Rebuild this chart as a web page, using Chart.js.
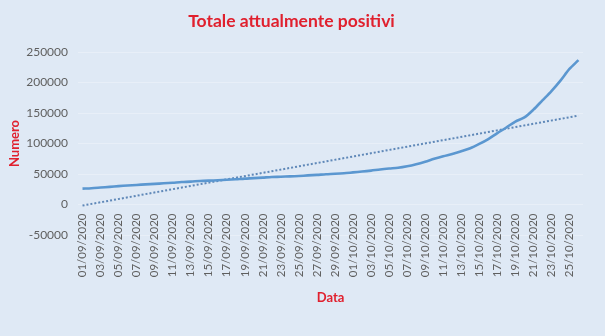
<!DOCTYPE html>
<html>
<head>
<meta charset="utf-8">
<script src="https://cdn.jsdelivr.net/npm/chart.js@4/dist/chart.umd.min.js"></script>
<style>
  html, body { margin: 0; padding: 0; background: #dfe9f5; }
  #wrap { width: 605px; height: 336px; }
</style>
</head>
<body>
<div id="wrap"><canvas id="chart"></canvas></div>
<script>
// ===== DATA =====
const dates = [
  "01/09/2020", "02/09/2020", "03/09/2020", "04/09/2020", "05/09/2020", "06/09/2020", "07/09/2020",
  "08/09/2020", "09/09/2020", "10/09/2020", "11/09/2020", "12/09/2020", "13/09/2020", "14/09/2020",
  "15/09/2020", "16/09/2020", "17/09/2020", "18/09/2020", "19/09/2020", "20/09/2020", "21/09/2020",
  "22/09/2020", "23/09/2020", "24/09/2020", "25/09/2020", "26/09/2020", "27/09/2020", "28/09/2020",
  "29/09/2020", "30/09/2020", "01/10/2020", "02/10/2020", "03/10/2020", "04/10/2020", "05/10/2020",
  "06/10/2020", "07/10/2020", "08/10/2020", "09/10/2020", "10/10/2020", "11/10/2020", "12/10/2020",
  "13/10/2020", "14/10/2020", "15/10/2020", "16/10/2020", "17/10/2020", "18/10/2020", "19/10/2020",
  "20/10/2020", "21/10/2020", "22/10/2020", "23/10/2020", "24/10/2020", "25/10/2020", "26/10/2020"
];

const positivi = [
  26078, 26754, 27817, 28915, 30099, 31194, 32078,
  32993, 33789, 34734, 35708, 36767, 37503, 38509,
  39187, 39712, 40532, 41413, 42457, 43161, 44098,
  45079, 45489, 46114, 46780, 47718, 48593, 49618,
  50323, 51263, 52647, 54015, 55566, 57429, 58903,
  60134, 62576, 65952, 70110, 74829, 79075, 82764,
  87193, 92174, 99266, 107312, 116935, 126237, 135995,
  142739, 155442, 170696, 186002, 203182, 222241, 236684
];

// linear trend: end points only
const trendDates = ["01/09/2020", "26/10/2020"];
const trendValues = [-1700, 145700];

const yTicks = [-50000, 0, 50000, 100000, 150000, 200000, 250000];

// ===== CHART =====
const red = "#e0202e";
const grey = "#5f5f5f";
const font = "Lato, 'Liberation Sans', sans-serif";

const ctx = document.getElementById("chart").getContext("2d");

new Chart(ctx, {
  type: "line",
  data: {
    labels: dates,
    datasets: [
      {
        label: "Totale attualmente positivi",
        data: positivi,
        borderColor: "#5b97d0",
        borderWidth: 2.6,
        pointRadius: 0,
        tension: 0.3,
        fill: false
      },
      {
        label: "Lineare",
        data: trendDates.map((d, i) => ({ x: d, y: trendValues[i] })),
        borderColor: "#5f88b8",
        borderWidth: 2,
        borderDash: [2, 2],
        pointRadius: 0,
        fill: false
      }
    ]
  },
  options: {
    responsive: true,
    maintainAspectRatio: false,
    animation: false,
    // x axis sits on the zero line, so its labels live in this bottom padding
    layout: { padding: { left: 0, right: 22, top: 0, bottom: 101 } },
    plugins: {
      legend: { display: false },
      tooltip: { enabled: false },
      title: {
        display: true,
        text: "Totale attualmente positivi",
        color: red,
        font: { family: font, size: 17.5, weight: "bold" },
        padding: { top: 11, bottom: 20 }
      }
    },
    scales: {
      x: {
        position: { y: 0 },
        offset: true,
        grid: { display: false, drawTicks: false },
        border: { display: false },
        ticks: {
          autoSkip: false,
          maxRotation: 90,
          minRotation: 90,
          padding: 9,
          color: grey,
          font: { family: font, size: 11.5 },
          callback: function (value, index) {
            return index % 2 === 0 ? this.getLabelForValue(value) : "";
          }
        },
        title: {
          display: true,
          text: "Data",
          color: red,
          font: { family: font, size: 13, weight: "bold" },
          padding: { top: 0, bottom: 0 }
        },
        afterFit: (scale) => { scale.height = 101; }
      },
      y: {
        min: -50000,
        max: 250000,
        afterBuildTicks: (scale) => { scale.ticks = yTicks.map(v => ({ value: v })); },
        grid: { color: "#e8eff8", lineWidth: 1, drawTicks: false },
        border: { display: false },
        ticks: {
          padding: 10,
          color: grey,
          font: { family: font, size: 12 },
          callback: (v) => String(v)
        },
        title: {
          display: true,
          text: "Numero",
          color: red,
          font: { family: font, size: 13, weight: "bold" },
          padding: { top: 7, bottom: 0 }
        },
        afterFit: (scale) => { scale.width = 78; }
      }
    }
  }
});
</script>
</body>
</html>
